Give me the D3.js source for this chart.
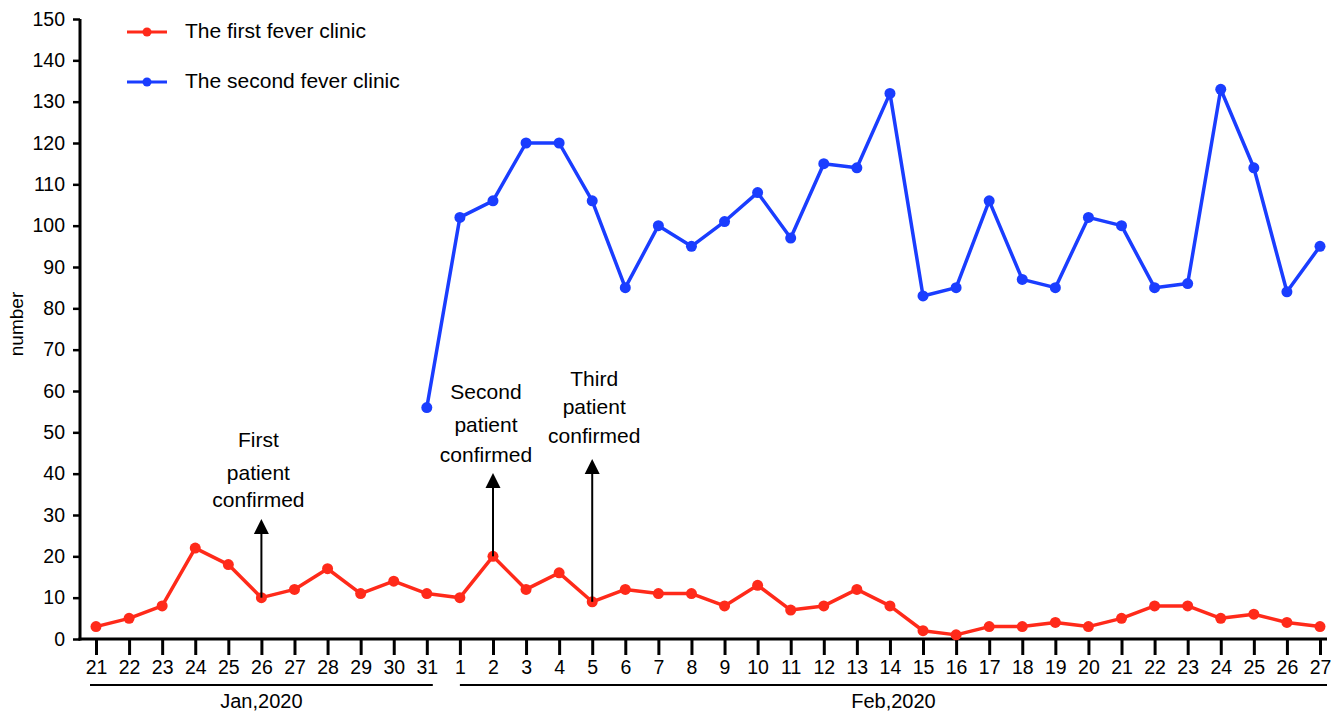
<!DOCTYPE html>
<html><head><meta charset="utf-8">
<script src="https://cdn.jsdelivr.net/npm/d3@7"></script>
<style>body{margin:0;background:#fff}svg{display:block;font-family:"Liberation Sans",Arial,sans-serif}</style>
</head><body><svg id="c" width="1340" height="714"></svg>
<script>
const janDays = [21,22,23,24,25,26,27,28,29,30,31];
const febDays = [1,2,3,4,5,6,7,8,9,10,11,12,13,14,15,16,17,18,19,20,21,22,23,24,25,26,27];
const categories = janDays.map(d=>"Jan "+d).concat(febDays.map(d=>"Feb "+d));
const tickLabels = janDays.concat(febDays).map(String);
const firstClinic = [3,5,8,22,18,10,12,17,11,14,11, 10,20,12,16,9,12,11,11,8,13,7,8,12,8,2,1,3,3,4,3,5,8,8,5,6,4,3];
const secondClinic = [null,null,null,null,null,null,null,null,null,null,56, 102,106,120,120,106,85,100,95,101,108,97,115,114,132,83,85,106,87,85,102,100,85,86,133,114,84,95];
const yTicks = d3.range(0,151,10);
const seriesNames = ["The first fever clinic","The second fever clinic"];
const seriesColors = ["#ff2a1a","#1a3dff"];
const events = [
  {cat:"Jan 26", lines:["First","patient","confirmed"], top:519, textY:[441,474,501], dx:-3},
  {cat:"Feb 2", lines:["Second","patient","confirmed"], top:473, textY:[393,426,456], dx:-7},
  {cat:"Feb 5", lines:["Third","patient","confirmed"], top:459, textY:[380,408,437], dx:2}
];
const monthGroups = [
  {label:"Jan,2020", from:"Jan 21", to:"Jan 31", x1:-6, x2:6, ly:703},
  {label:"Feb,2020", from:"Feb 1", to:"Feb 27", x1:0, x2:7, ly:703}
];
const FONT = "Liberation Sans, Arial, sans-serif";

const svg = d3.select("#c");
const x = d3.scalePoint().domain(categories).range([96,1320]);
const y = d3.scaleLinear().domain([0,150]).range([639,19]);

// Y axis
const ya = svg.append("g").attr("transform","translate(80,0)")
  .call(d3.axisLeft(y).tickValues(yTicks).tickSize(7).tickPadding(8));
ya.select(".domain").attr("stroke","#000").attr("stroke-width",3).attr("d","M0,19V640.5");
ya.selectAll(".tick line").attr("stroke-width",2.5);
ya.selectAll(".tick text").attr("font-size",19.5).attr("fill","#000").attr("font-family",FONT);

// X axis
const xa = svg.append("g").attr("transform","translate(0,639)")
  .call(d3.axisBottom(x).tickSize(16).tickPadding(5).tickFormat((d,i)=>tickLabels[i]));
xa.select(".domain").attr("stroke","#000").attr("stroke-width",3).attr("d","M78.5,0H1327");
xa.selectAll(".tick line").attr("stroke-width",3);
xa.selectAll(".tick text").attr("font-size",19.5).attr("fill","#000").attr("font-family",FONT);

// month brackets
monthGroups.forEach(g=>{
  const a = x(g.from)+g.x1, b = x(g.to)+g.x2;
  svg.append("line").attr("x1",a).attr("x2",b).attr("y1",685).attr("y2",685).attr("stroke","#000").attr("stroke-width",2);
  svg.append("text").attr("x",(a+b)/2).attr("y",g.ly).attr("text-anchor","middle").attr("dominant-baseline","middle").attr("font-size",20).text(g.label);
});

// y label
svg.append("text").attr("transform","translate(18,324) rotate(-90)").attr("text-anchor","middle").attr("dominant-baseline","middle").attr("font-size",19).text("number");

// series
const series = [firstClinic, secondClinic];
series.forEach((vals,si)=>{
  const pts = categories.map((c,i)=>({c,v:vals[i]})).filter(p=>p.v!=null);
  svg.append("path").datum(pts)
    .attr("d", d3.line().x(p=>x(p.c)).y(p=>y(p.v)))
    .attr("fill","none").attr("stroke",seriesColors[si]).attr("stroke-width",3.5).attr("stroke-linejoin","round");
  svg.append("g").selectAll("circle").data(pts).join("circle")
    .attr("cx",p=>x(p.c)).attr("cy",p=>y(p.v)).attr("r",5.5).attr("fill",seriesColors[si]);
});

// events
events.forEach(e=>{
  const xi = x(e.cat), v = firstClinic[categories.indexOf(e.cat)];
  svg.append("line").attr("x1",xi).attr("x2",xi).attr("y1",y(v)).attr("y2",e.top+12).attr("stroke","#000").attr("stroke-width",2);
  svg.append("path").attr("d",`M${xi},${e.top}L${xi-7.5},${e.top+15}L${xi+7.5},${e.top+15}Z`).attr("fill","#000");
  e.lines.forEach((t,k)=>svg.append("text").attr("x",xi+e.dx).attr("y",e.textY[k]).attr("text-anchor","middle").attr("font-size",21).attr("dominant-baseline","middle").text(t));
});

// legend
seriesNames.forEach((n,i)=>{
  const ly = 32 + i*50;
  svg.append("line").attr("x1",127).attr("x2",167).attr("y1",ly).attr("y2",ly).attr("stroke",seriesColors[i]).attr("stroke-width",3);
  svg.append("circle").attr("cx",147).attr("cy",ly).attr("r",4.5).attr("fill",seriesColors[i]);
  svg.append("text").attr("x",185).attr("y",ly).attr("dominant-baseline","middle").attr("font-size",21).text(n);
});
</script></body></html>
